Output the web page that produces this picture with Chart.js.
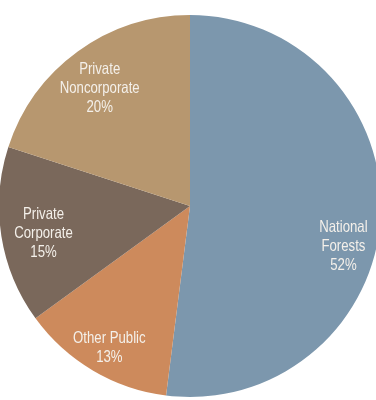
<!DOCTYPE html>
<html>
<head>
<meta charset="utf-8">
<script src="https://cdn.jsdelivr.net/npm/chart.js@4/dist/chart.umd.min.js"></script>
<style>
  html, body { margin: 0; padding: 0; background: #fff; overflow: hidden; }
  #wrap { position: relative; width: 376px; height: 400px; overflow: hidden; }
  #ownership { position: absolute; left: -1px; top: 0; }
</style>
</head>
<body>
<div id="wrap">
  <canvas id="ownership" width="382" height="400"></canvas>
</div>
<script>
// forest land ownership shares, clockwise from 12 o'clock
var owners = ["National Forests", "Other Public", "Private Corporate", "Private Noncorporate"];
var labelLines = [["National", "Forests"], ["Other Public"], ["Private", "Corporate"], ["Private", "Noncorporate"]];
var shares = [52, 13, 15, 20];
var sliceColors = ["#7c97ad", "#cd8a5c", "#7a685b", "#b7976f"];

// where each label sits inside its slice: fraction of radius, angle nudge in degrees
var labelSpots = [
  { frac: 0.83, nudge: 11 },
  { frac: 0.855, nudge: -1 },
  { frac: 0.78, nudge: -1.5 },
  { frac: 0.775, nudge: -1.6 }
];

// draws the name + percent text on top of every slice
// (regular sans squeezed sideways to get a narrow face)
const sliceLabels = {
  id: "sliceLabels",
  afterDatasetsDraw(chart) {
    const ctx = chart.ctx;
    const arcs = chart.getDatasetMeta(0).data;
    const squeeze = 0.8;
    arcs.forEach(function (arc, i) {
      const p = arc.getProps(["x", "y", "startAngle", "endAngle", "outerRadius"], true);
      const mid = (p.startAngle + p.endAngle) / 2 + labelSpots[i].nudge * Math.PI / 180;
      const r = p.outerRadius * labelSpots[i].frac;
      const cx = p.x + Math.cos(mid) * r;
      const cy = p.y + Math.sin(mid) * r;
      const lines = labelLines[i].concat([shares[i] + "%"]);
      const lh = 19;
      const top = cy - (lines.length - 1) * lh / 2;
      ctx.save();
      ctx.translate(cx, 0);
      ctx.scale(squeeze, 1);
      ctx.font = "16.5px 'Liberation Sans', Arial, sans-serif";
      ctx.fillStyle = "#f4f0ea";
      ctx.textAlign = "center";
      ctx.textBaseline = "middle";
      lines.forEach(function (t, k) {
        ctx.fillText(t, 0, top + k * lh);
      });
      ctx.restore();
    });
  }
};

new Chart("ownership", {
  type: "pie",
  data: {
    labels: owners,
    datasets: [{
      data: shares,
      backgroundColor: sliceColors,
      borderWidth: 0
    }]
  },
  options: {
    responsive: false,
    animation: false,
    layout: { padding: { top: 15, bottom: 3, left: 0, right: 0 } },
    plugins: {
      legend: { display: false },
      tooltip: { enabled: false }
    }
  },
  plugins: [sliceLabels]
});
</script>
</body>
</html>
